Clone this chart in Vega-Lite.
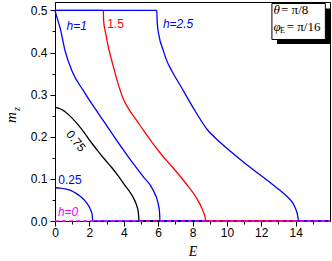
{
  "$schema": "https://vega.github.io/schema/vega-lite/v6.json",
  "width": 275,
  "height": 219,
  "autosize": {"type": "none"},
  "padding": {"left": 55, "top": 2, "right": 2, "bottom": 40},
  "config": {
    "view": {"stroke": "#000", "strokeWidth": 1},
    "axis": {"grid": false, "domainColor": "#000", "tickColor": "#000", "labelColor": "#000", "labelFont": "Liberation Sans", "labelFontSize": 12, "titleColor": "#000"}
  },
  "datasets": {
    "curves": [
      {"h": "0.25", "E": 0, "m": 0.079}, {"h": "0.25", "E": 0.3, "m": 0.0782}, {"h": "0.25", "E": 0.6, "m": 0.0762}, {"h": "0.25", "E": 0.9, "m": 0.0726}, {"h": "0.25", "E": 1.2, "m": 0.0662}, {"h": "0.25", "E": 1.45, "m": 0.0593}, {"h": "0.25", "E": 1.65, "m": 0.0523}, {"h": "0.25", "E": 1.84, "m": 0.043}, {"h": "0.25", "E": 2.0, "m": 0.0329}, {"h": "0.25", "E": 2.1, "m": 0.0237}, {"h": "0.25", "E": 2.16, "m": 0.0155}, {"h": "0.25", "E": 2.2, "m": 0}, {"h": "0.25", "E": 16, "m": 0},
      {"h": "0.75", "E": 0, "m": 0.27}, {"h": "0.75", "E": 0.2, "m": 0.268}, {"h": "0.75", "E": 0.5, "m": 0.262}, {"h": "0.75", "E": 0.8, "m": 0.252}, {"h": "0.75", "E": 1.25, "m": 0.233}, {"h": "0.75", "E": 1.7, "m": 0.21}, {"h": "0.75", "E": 2.1, "m": 0.187}, {"h": "0.75", "E": 2.5, "m": 0.166}, {"h": "0.75", "E": 2.9, "m": 0.146}, {"h": "0.75", "E": 3.3, "m": 0.127}, {"h": "0.75", "E": 3.7, "m": 0.106}, {"h": "0.75", "E": 4.1, "m": 0.083}, {"h": "0.75", "E": 4.4, "m": 0.066}, {"h": "0.75", "E": 4.6, "m": 0.052}, {"h": "0.75", "E": 4.75, "m": 0.037}, {"h": "0.75", "E": 4.85, "m": 0.02}, {"h": "0.75", "E": 4.89, "m": 0}, {"h": "0.75", "E": 16, "m": 0},
      {"h": "1", "E": 0, "m": 0.5}, {"h": "1", "E": 0.15, "m": 0.478}, {"h": "1", "E": 0.3, "m": 0.458}, {"h": "1", "E": 0.58, "m": 0.405}, {"h": "1", "E": 1.0, "m": 0.355}, {"h": "1", "E": 1.64, "m": 0.31}, {"h": "1", "E": 2.0, "m": 0.287}, {"h": "1", "E": 2.5, "m": 0.257}, {"h": "1", "E": 2.9, "m": 0.233}, {"h": "1", "E": 3.6, "m": 0.191}, {"h": "1", "E": 4.36, "m": 0.147}, {"h": "1", "E": 5.12, "m": 0.106}, {"h": "1", "E": 5.7, "m": 0.074}, {"h": "1", "E": 5.99, "m": 0.043}, {"h": "1", "E": 6.08, "m": 0.022}, {"h": "1", "E": 6.11, "m": 0}, {"h": "1", "E": 16, "m": 0},
      {"h": "1.5", "E": 0, "m": 0.5}, {"h": "1.5", "E": 2.81, "m": 0.5}, {"h": "1.5", "E": 2.83, "m": 0.475}, {"h": "1.5", "E": 2.95, "m": 0.445}, {"h": "1.5", "E": 3.15, "m": 0.405}, {"h": "1.5", "E": 3.4, "m": 0.366}, {"h": "1.5", "E": 3.7, "m": 0.322}, {"h": "1.5", "E": 3.97, "m": 0.29}, {"h": "1.5", "E": 4.35, "m": 0.262}, {"h": "1.5", "E": 4.75, "m": 0.239}, {"h": "1.5", "E": 5.15, "m": 0.215}, {"h": "1.5", "E": 5.53, "m": 0.193}, {"h": "1.5", "E": 6.11, "m": 0.162}, {"h": "1.5", "E": 6.46, "m": 0.145}, {"h": "1.5", "E": 7.0, "m": 0.12}, {"h": "1.5", "E": 7.62, "m": 0.089}, {"h": "1.5", "E": 8.2, "m": 0.057}, {"h": "1.5", "E": 8.59, "m": 0.026}, {"h": "1.5", "E": 8.72, "m": 0.011}, {"h": "1.5", "E": 8.78, "m": 0}, {"h": "1.5", "E": 16, "m": 0},
      {"h": "2.5", "E": 0, "m": 0.5}, {"h": "2.5", "E": 5.92, "m": 0.5}, {"h": "2.5", "E": 5.95, "m": 0.47}, {"h": "2.5", "E": 6.05, "m": 0.44}, {"h": "2.5", "E": 6.3, "m": 0.405}, {"h": "2.5", "E": 6.46, "m": 0.385}, {"h": "2.5", "E": 6.8, "m": 0.356}, {"h": "2.5", "E": 7.23, "m": 0.326}, {"h": "2.5", "E": 8.01, "m": 0.271}, {"h": "2.5", "E": 8.88, "m": 0.216}, {"h": "2.5", "E": 9.6, "m": 0.187}, {"h": "2.5", "E": 10.34, "m": 0.161}, {"h": "2.5", "E": 11.0, "m": 0.139}, {"h": "2.5", "E": 11.69, "m": 0.117}, {"h": "2.5", "E": 12.4, "m": 0.095}, {"h": "2.5", "E": 13.05, "m": 0.074}, {"h": "2.5", "E": 13.5, "m": 0.058}, {"h": "2.5", "E": 13.83, "m": 0.043}, {"h": "2.5", "E": 14.02, "m": 0.027}, {"h": "2.5", "E": 14.12, "m": 0.013}, {"h": "2.5", "E": 14.17, "m": 0}, {"h": "2.5", "E": 16, "m": 0}
    ]
  },
  "layer": [
    {
      "data": {"values": [{"x1": 12.92, "x2": 16.0, "y1": 0.4203, "y2": 0.5046}]},
      "mark": {"type": "rect", "fill": "#000"},
      "encoding": {
        "x": {"field": "x1", "type": "quantitative", "scale": {"domain": [0, 16], "nice": false, "zero": false}, "axis": null},
        "x2": {"field": "x2"},
        "y": {"field": "y1", "type": "quantitative", "scale": {"domain": [0, 0.52], "nice": false, "zero": false}, "axis": null},
        "y2": {"field": "y2"}
      }
    },
    {
      "data": {"values": [{"x1": 12.62, "x2": 15.73, "y1": 0.431, "y2": 0.5164}]},
      "mark": {"type": "rect", "fill": "#fff", "stroke": "#000", "strokeWidth": 1},
      "encoding": {
        "x": {"field": "x1", "type": "quantitative", "axis": null},
        "x2": {"field": "x2"},
        "y": {"field": "y1", "type": "quantitative", "axis": null},
        "y2": {"field": "y2"}
      }
    },
    {
      "data": {"name": "curves"},
      "mark": {"type": "line", "strokeWidth": 1.3, "interpolate": "monotone"},
      "encoding": {
        "x": {"field": "E", "type": "quantitative", "axis": {"orient": "bottom", "values": [0, 2, 4, 6, 8, 10, 12, 14], "tickSize": 5, "labelPadding": 1, "labelFlush": false, "title": "E", "titleFont": "Liberation Serif", "titleFontStyle": "italic", "titleFontWeight": "normal", "titleFontSize": 14, "titlePadding": 6}},
        "y": {"field": "m", "type": "quantitative", "axis": {"orient": "left", "values": [0, 0.1, 0.2, 0.3, 0.4, 0.5], "format": ".1f", "tickSize": 5, "labelPadding": 3, "labelFlush": false, "title": null}},
        "color": {"field": "h", "type": "nominal", "scale": {"domain": ["0", "0.25", "0.75", "1", "1.5", "2.5"], "range": ["#ff00ff", "#0000ff", "#000000", "#0000ff", "#ff0000", "#0000ff"]}, "legend": null}
      }
    },
    {
      "data": {"values": [{"E": 0, "m": 0}, {"E": 16, "m": 0}]},
      "mark": {"type": "line", "color": "#ff00ff", "strokeWidth": 1.3, "strokeDash": [4, 3]},
      "encoding": {
        "x": {"field": "E", "type": "quantitative", "axis": {"orient": "bottom", "values": [1, 3, 5, 7, 9, 11, 13, 15], "tickSize": 3, "labels": false, "domain": false, "title": null}},
        "y": {"field": "m", "type": "quantitative", "axis": {"orient": "left", "values": [0.05, 0.15, 0.25, 0.35, 0.45], "tickSize": 3, "labels": false, "domain": false, "title": null}}
      }
    },
    {
      "data": {"values": [{"h": "1", "label": "h=1", "E": 1.26, "m": 0.463}, {"h": "2.5", "label": "h=2.5", "E": 7.16, "m": 0.468}, {"h": "0", "label": "h=0", "E": 0.76, "m": 0.0214}]},
      "mark": {"type": "text", "font": "Liberation Sans", "fontSize": 12, "fontStyle": "italic", "align": "center", "baseline": "middle"},
      "encoding": {
        "x": {"field": "E", "type": "quantitative", "axis": null},
        "y": {"field": "m", "type": "quantitative", "axis": null},
        "text": {"field": "label"},
        "color": {"field": "h", "type": "nominal", "legend": null}
      }
    },
    {
      "data": {"values": [{"h": "1.5", "label": "1.5", "E": 3.52, "m": 0.468}, {"h": "0.25", "label": "0.25", "E": 0.87, "m": 0.0985}]},
      "mark": {"type": "text", "font": "Liberation Sans", "fontSize": 12, "align": "center", "baseline": "middle"},
      "encoding": {
        "x": {"field": "E", "type": "quantitative", "axis": null},
        "y": {"field": "m", "type": "quantitative", "axis": null},
        "text": {"field": "label"},
        "color": {"field": "h", "type": "nominal", "legend": null}
      }
    },
    {
      "data": {"values": [{"h": "0.75", "label": "0.75", "E": 1.22, "m": 0.19}]},
      "mark": {"type": "text", "font": "Liberation Sans", "fontSize": 12, "align": "center", "baseline": "middle", "angle": 50},
      "encoding": {
        "x": {"field": "E", "type": "quantitative", "axis": null},
        "y": {"field": "m", "type": "quantitative", "axis": null},
        "text": {"field": "label"},
        "color": {"field": "h", "type": "nominal", "legend": null}
      }
    },
    {
      "data": {"values": [{"label": "m", "E": -2.56, "m": 0.2458}]},
      "mark": {"type": "text", "font": "Liberation Serif", "fontSize": 15, "fontStyle": "italic", "align": "center", "baseline": "middle", "angle": 270, "color": "#000"},
      "encoding": {
        "x": {"field": "E", "type": "quantitative", "axis": null},
        "y": {"field": "m", "type": "quantitative", "axis": null},
        "text": {"field": "label"}
      }
    },
    {
      "data": {"values": [{"label": "z", "E": -2.23, "m": 0.266}]},
      "mark": {"type": "text", "font": "Liberation Serif", "fontSize": 10, "fontStyle": "italic", "align": "center", "baseline": "middle", "angle": 270, "color": "#000"},
      "encoding": {
        "x": {"field": "E", "type": "quantitative", "axis": null},
        "y": {"field": "m", "type": "quantitative", "axis": null},
        "text": {"field": "label"}
      }
    },
    {
      "data": {"values": [{"label": "θ", "E": 12.71, "m": 0.4915}, {"label": "φ", "E": 12.71, "m": 0.4519}]},
      "mark": {"type": "text", "font": "Liberation Serif", "fontSize": 13, "fontStyle": "italic", "align": "left", "baseline": "alphabetic", "color": "#000"},
      "encoding": {
        "x": {"field": "E", "type": "quantitative", "axis": null},
        "y": {"field": "m", "type": "quantitative", "axis": null},
        "text": {"field": "label"}
      }
    },
    {
      "data": {"values": [{"label": "= π/8", "E": 13.15, "m": 0.4915}, {"label": "= π/16", "E": 13.48, "m": 0.4519}]},
      "mark": {"type": "text", "font": "Liberation Serif", "fontSize": 13, "align": "left", "baseline": "alphabetic", "color": "#000"},
      "encoding": {
        "x": {"field": "E", "type": "quantitative", "axis": null},
        "y": {"field": "m", "type": "quantitative", "axis": null},
        "text": {"field": "label"}
      }
    },
    {
      "data": {"values": [{"label": "E", "E": 13.09, "m": 0.4464}]},
      "mark": {"type": "text", "font": "Liberation Serif", "fontSize": 8, "align": "left", "baseline": "alphabetic", "color": "#000"},
      "encoding": {
        "x": {"field": "E", "type": "quantitative", "axis": null},
        "y": {"field": "m", "type": "quantitative", "axis": null},
        "text": {"field": "label"}
      }
    }
  ],
  "resolve": {"axis": {"x": "independent", "y": "independent"}}
}
